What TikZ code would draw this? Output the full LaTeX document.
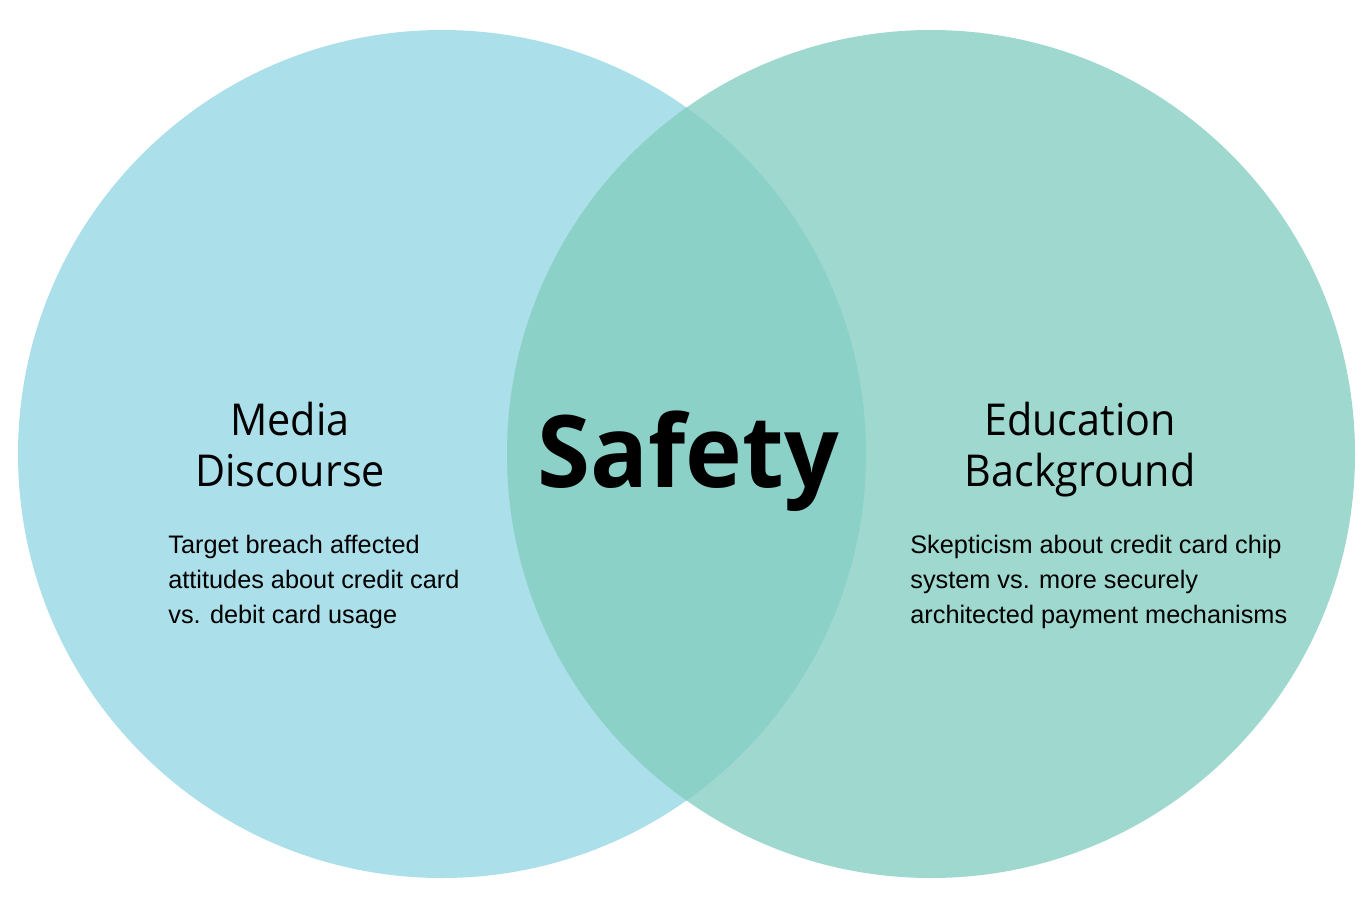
\documentclass[tikz,border=0pt]{standalone}
\usepackage{fontspec}
\setmainfont{Liberation Sans}
\newfontfamily\headfont[FakeStretch=0.94]{Open Sans}
\newfontfamily\safetyfont[FakeStretch=0.96]{Open Sans}
\usepackage{xcolor}
\definecolor{skyblue}{HTML}{ABDFEA}
\definecolor{seafoam}{HTML}{9ED8CF}
\definecolor{overlap}{HTML}{8BD1C8}

\begin{document}
\begin{tikzpicture}[
      x=0.02cm, y=-0.02cm,
      heading/.style={align=center, inner sep=0pt, anchor=north,
                      font=\headfont\fontsize{25}{29}\selectfont},
      blurb/.style={align=left, inner sep=0pt, anchor=north west,
                    font=\fontsize{14.4}{19.8}\selectfont},
    ]
      \useasboundingbox (0, 0) rectangle (1372, 910);
      % the two sets
      \fill[skyblue] (442, 454) circle[radius=424];
      \fill[seafoam] (931, 454) circle[radius=424];
      \begin{scope}
        \clip (442, 454) circle[radius=424];
        \fill[overlap] (931, 454) circle[radius=424];
      \end{scope}
      % labels
      \node[heading] (media) at (290, 402) {Media\\Discourse};
      \node[blurb] (target) at (168, 535) {%
        Target breach affected\\
        attitudes about credit card\\
        vs. debit card usage};
      \node[heading] (educ) at (1080, 402) {Education\\Background};
      \node[blurb] (chip) at (910, 535) {%
        Skepticism about credit card chip\\
        system vs. more securely\\
        architected payment mechanisms};
      \node[anchor=base, inner sep=0pt,
            font=\safetyfont\bfseries\fontsize{57}{57}\selectfont]
        (safety) at (688, 487) {Safety};
    \end{tikzpicture}
\end{document}
